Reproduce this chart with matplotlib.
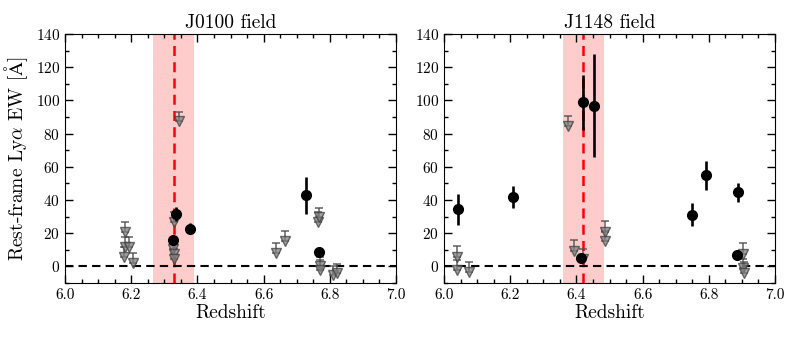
import numpy as np
import matplotlib
import matplotlib.pyplot as plt
from matplotlib.ticker import MultipleLocator

matplotlib.use("Agg")

plt.rcParams["font.family"] = "serif"
plt.rcParams["font.serif"] = ["cmr10"]
plt.rcParams["mathtext.fontset"] = "cm"
plt.rcParams["axes.unicode_minus"] = False
plt.rcParams["axes.formatter.use_mathtext"] = True

# J0100 field
j0100_det_z = [6.728, 6.334, 6.379, 6.326, 6.768]
j0100_det_ew = [42.8, 31.6, 22.8, 15.8, 9.0]
j0100_det_err = [11.0, 4.0, 3.5, 3.0, 2.0]
j0100_lim_z = [6.180, 6.181, 6.179, 6.192, 6.204, 6.328, 6.325, 6.328, 6.329,
               6.343, 6.636, 6.664, 6.763, 6.766, 6.770, 6.770, 6.809, 6.821]
j0100_lim_ew = [20.5, 12.0, 6.0, 12.0, 2.0, 27.0, 10.5, 7.5, 4.5,
                87.4, 8.4, 15.4, 26.8, 29.5, 0.2, -2.2, -5.2, -4.2]
j0100_lim_cap = [26.6, 18.0, 12.0, 18.0, 7.9, 33.0, 16.5, 13.5, 10.5,
                 93.0, 14.4, 21.4, 32.8, 35.0, 5.7, 3.8, 0.5, 1.5]
j0100_zq, j0100_dz = 6.328, 0.061

# J1148 field
j1148_det_z = [6.043, 6.207, 6.420, 6.452, 6.415, 6.749, 6.792, 6.889, 6.886]
j1148_det_ew = [34.4, 41.8, 98.8, 96.8, 5.0, 31.2, 54.8, 44.6, 7.0]
j1148_det_err = [9.5, 6.8, 16.5, 31.0, 2.0, 7.0, 9.0, 5.6, 2.0]
j1148_lim_z = [6.039, 6.039, 6.075, 6.376, 6.394, 6.421, 6.486, 6.487,
               6.902, 6.903, 6.905]
j1148_lim_ew = [6.0, -2.0, -3.6, 84.4, 9.4, 4.8, 20.8, 15.4, 7.4, -1.2, -4.2]
j1148_lim_cap = [12.4, 4.0, 2.8, 90.4, 15.8, 10.8, 27.2, 21.5, 14.0, 4.5, 2.8]
j1148_zq, j1148_dz = 6.420, 0.062

panels = [
    ("J0100 field", j0100_det_z, j0100_det_ew, j0100_det_err,
     j0100_lim_z, j0100_lim_ew, j0100_lim_cap, j0100_zq, j0100_dz),
    ("J1148 field", j1148_det_z, j1148_det_ew, j1148_det_err,
     j1148_lim_z, j1148_lim_ew, j1148_lim_cap, j1148_zq, j1148_dz),
]

fig = plt.figure(figsize=(7.97, 3.37), dpi=100)
ax_left = fig.add_axes([0.0816, 0.160, 0.4153, 0.739])
ax_right = fig.add_axes([0.5571, 0.160, 0.4153, 0.739])

for ax, (title, dz_, dew, derr, lz, lew, lcap, zq, dzq) in zip([ax_left, ax_right], panels):
    ax.axvspan(zq - dzq, zq + dzq, color="#ffcccc", lw=0, zorder=0)
    ax.axvline(zq, color="red", ls="--", lw=1.8, dashes=(4, 2.5), zorder=1)
    ax.axhline(0, color="black", ls="--", lw=1.5, dashes=(4, 2.5), zorder=1)

    # upper limits: triangle at the limit, bar up to a cap
    lew = np.array(lew)
    up = np.array(lcap) - lew
    ax.errorbar(lz, lew, yerr=[np.zeros_like(up), up], fmt="v", color="0.3",
                mfc="0.5", mec="0.25", ms=7, lw=1.3, capsize=3, capthick=1.3,
                alpha=0.75, zorder=2)
    ax.errorbar(dz_, dew, yerr=derr, fmt="o", color="black", ms=7, lw=1.9,
                capsize=0, zorder=3)

    ax.set_xlim(6.0, 7.0)
    ax.set_ylim(-10, 140)
    ax.xaxis.set_major_locator(MultipleLocator(0.2))
    ax.xaxis.set_minor_locator(MultipleLocator(0.05))
    ax.yaxis.set_major_locator(MultipleLocator(20))
    ax.yaxis.set_minor_locator(MultipleLocator(10))
    ax.tick_params(which="both", direction="in", top=True, right=True, labelsize=11)
    ax.tick_params(which="major", length=6, width=1)
    ax.tick_params(which="minor", length=3, width=1)
    ax.xaxis.set_major_formatter(matplotlib.ticker.FormatStrFormatter("%.1f"))
    ax.set_title(title, fontsize=14, pad=4)
    ax.set_xlabel("Redshift", fontsize=14, labelpad=2)

ax_left.set_ylabel(r"Rest-frame Ly$\alpha$ EW [$\mathrm{\AA}$]", fontsize=14, labelpad=4)

fig.savefig("out.png", dpi=100)
